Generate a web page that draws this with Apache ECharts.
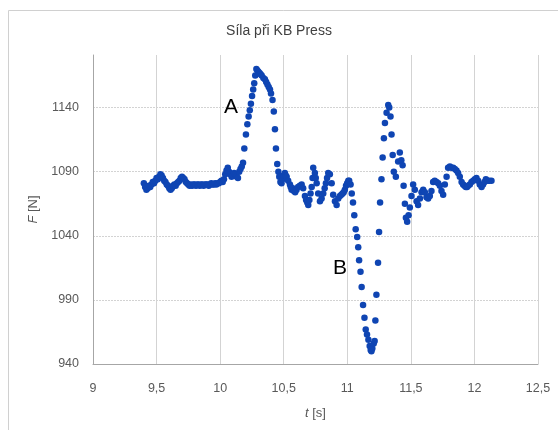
<!DOCTYPE html>
<html><head><meta charset="utf-8">
<script src="https://cdn.jsdelivr.net/npm/echarts@6/dist/echarts.min.js"></script>
<style>html,body{margin:0;padding:0;background:#fff}#c{width:558px;height:430px}</style>
</head><body><div id="c"></div>
<script>
const chartTitle = 'Síla při KB Press';
const tValues = [
9.40,9.41,9.42,9.43,9.44,9.45,9.46,9.47,9.48,9.49,9.50,9.51,9.52,9.53,9.54,9.55,9.56,9.57,9.58,9.59,
9.60,9.61,9.62,9.63,9.64,9.65,9.66,9.67,9.68,9.69,9.70,9.71,9.72,9.73,9.74,9.75,9.76,9.77,9.78,9.79,
9.80,9.81,9.82,9.83,9.84,9.85,9.86,9.87,9.88,9.89,9.90,9.91,9.92,9.93,9.94,9.95,9.96,9.97,9.98,9.99,
10.00,10.01,10.02,10.03,10.04,10.05,10.06,10.07,10.08,10.09,10.10,10.11,10.12,10.13,10.14,10.15,10.16,10.17,
10.180,10.190,10.203,10.214,10.224,10.233,10.242,10.251,10.260,10.268,10.276,10.285,10.293,10.301,10.310,10.318,10.327,10.340,10.352,10.362,
10.372,10.382,10.392,10.400,10.412,10.422,10.431,10.439,10.449,10.458,10.465,10.474,10.483,10.490,10.498,10.509,10.516,10.523,10.535,10.549,
10.555,10.562,10.570,10.580,10.590,10.601,10.613,10.627,10.641,10.653,10.667,10.676,10.685,10.693,10.702,10.711,10.720,10.727,10.732,10.745,
10.752,10.759,10.771,10.785,10.798,10.811,10.822,10.832,10.841,10.850,10.863,10.877,10.889,10.903,10.916,10.929,10.942,10.953,10.963,10.972,
10.981,10.990,10.999,11.008,11.015,11.026,11.035,11.045,11.055,11.066,11.078,11.086,11.093,11.104,11.113,11.124,11.135,11.145,11.155,11.166,
11.176,11.184,11.190,11.197,11.208,11.215,11.221,11.229,11.242,11.250,11.258,11.269,11.278,11.288,11.296,11.309,11.322,11.330,11.340,11.348,
11.357,11.366,11.382,11.400,11.413,11.425,11.435,11.443,11.453,11.461,11.471,11.482,11.492,11.505,11.518,11.531,11.545,11.557,11.571,11.584,
11.597,11.610,11.623,11.636,11.649,11.662,11.675,11.688,11.702,11.715,11.728,11.741,11.754,11.767,11.781,11.793,11.807,11.820,11.833,11.846,
11.859,11.872,11.885,11.899,11.911,11.922,11.932,11.942,11.950,11.964,11.977,11.990,12.003,12.016,12.029,12.042,12.056,12.068,12.079,12.090,
12.103,12.116,12.134
];
const forceValues = [
1081,1078,1076,1077,1079,1078,1080,1082,1081,1083,1085,1084,1086,1088,1087,1085,1083,1082,1080,1079,
1077,1076,1077,1079,1080,1079,1081,1082,1083,1085,1086,1085,1084,1082,1081,1080,1079,1080,1079,1080,
1080,1079,1080,1080,1079,1080,1080,1079,1080,1080,1080,1079,1080,1081,1080,1080,1081,1080,1081,1081,
1082,1083,1082,1084,1088,1091,1093,1090,1088,1086,1087,1089,1088,1086,1085,1090,1092,1094,
1097,1108,1119,1127,1133,1138,1143,1149,1154,1159,1165,1170,1169,1168,1167,1166,1165,1163,1162,1160,
1158,1156,1154,1151,1146,1137,1123,1108,1096,1090,1086,1082,1081,1084,1087,1089,1087,1086,1083,1080,
1078,1076,1077,1075,1074,1076,1078,1079,1080,1077,1071,1068,1066,1064,1068,1073,1078,1085,1093,1089,
1085,1081,1073,1067,1069,1073,1077,1081,1085,1089,1088,1081,1072,1067,1064,1069,1071,1072,1073,1074,
1076,1079,1081,1083,1083,1080,1073,1066,1056,1045,1039,1031,1021,1012,1000,986,976,967,963,959,
954,951,950,952,956,958,974,994,1019,1043,1066,1084,1101,1116,1128,1136,1142,1140,1133,1119,
1103,1090,1086,1098,1105,1099,1095,1079,1065,1054,1051,1056,1062,1071,1080,1076,1067,1064,1069,1074,
1076,1074,1070,1069,1071,1075,1082,1083,1082,1081,1079,1075,1072,1080,1086,1093,1094,1093,1093,1092,
1091,1089,1086,1082,1080,1079,1078,1078,1079,1080,1082,1083,1084,1085,1083,1080,1078,1080,1082,1084,
1083,1083,1083
];
const xTicks = [9, 9.5, 10, 10.5, 11, 11.5, 12, 12.5];
const yTicks = [940, 990, 1040, 1090, 1140];
const annotations = [
  { text: 'A', t: 10.085, F: 1140 },
  { text: 'B', t: 10.942, F: 1015 }
];

const data = tValues.map((t, i) => [t, forceValues[i]]);
const chart = echarts.init(document.getElementById('c'), null, { renderer: 'canvas' });
const font = "'Liberation Sans', Arial, sans-serif";
const gray = '#595959';
chart.setOption({
  animation: false,
  backgroundColor: '#fff',
  textStyle: { fontFamily: font },
  title: {
    text: chartTitle, left: 'center', top: 19,
    textStyle: { fontFamily: font, fontSize: 14, fontWeight: 'normal', color: '#404040' }
  },
  graphic: [{
    type: 'rect', left: 6, top: 8,
    shape: { width: 600, height: 500 },
    style: { fill: 'none', stroke: '#D0D0D0', lineWidth: 1 }, silent: true, z: -1
  }],
  grid: { left: 93, right: 20, top: 55, bottom: 66, containLabel: false },
  xAxis: {
    type: 'value', min: xTicks[0], max: xTicks[xTicks.length - 1], interval: 0.5,
    name: '{i|t} [s]', nameLocation: 'middle', nameGap: 43,
    nameTextStyle: { color: gray, fontSize: 13, fontFamily: font, rich: { i: { fontStyle: 'italic', fontSize: 13, color: gray, fontFamily: font } } },
    axisLine: { show: true, lineStyle: { color: '#A6A6A6', width: 1 } },
    axisTick: { show: false },
    axisLabel: { color: gray, fontSize: 12.5, margin: 18, formatter: v => String(v).replace('.', ',') },
    splitLine: { show: true, lineStyle: { color: '#D3D3D3', width: 1 } }
  },
  yAxis: {
    type: 'value', min: yTicks[0], max: 1181, interval: 50,
    name: '{i|F} [N]', nameLocation: 'middle', nameGap: 53, nameRotate: 90,
    nameTextStyle: { color: gray, fontSize: 13, fontFamily: font, rich: { i: { fontStyle: 'italic', fontSize: 13, color: gray, fontFamily: font } } },
    axisLine: { show: true, lineStyle: { color: '#A6A6A6', width: 1 } },
    axisTick: { show: false },
    axisLabel: { color: gray, fontSize: 12.5, margin: 14, showMaxLabel: false, formatter: v => String(v) },
    splitLine: { show: true, showMaxLine: false, lineStyle: { color: '#D3D3D3', width: 1, type: [2, 1] } }
  },
  series: [{
    type: 'scatter', data: data, symbol: 'circle', symbolSize: 6.5,
    itemStyle: { color: '#0F45B3', opacity: 1 },
    markPoint: {
      symbol: 'circle', symbolSize: 0,
      label: { show: true, position: 'inside', color: '#000', fontSize: 21, fontFamily: font, formatter: p => p.name },
      data: annotations.map(a => ({ name: a.text, coord: [a.t, a.F] }))
    }
  }]
});
</script></body></html>
